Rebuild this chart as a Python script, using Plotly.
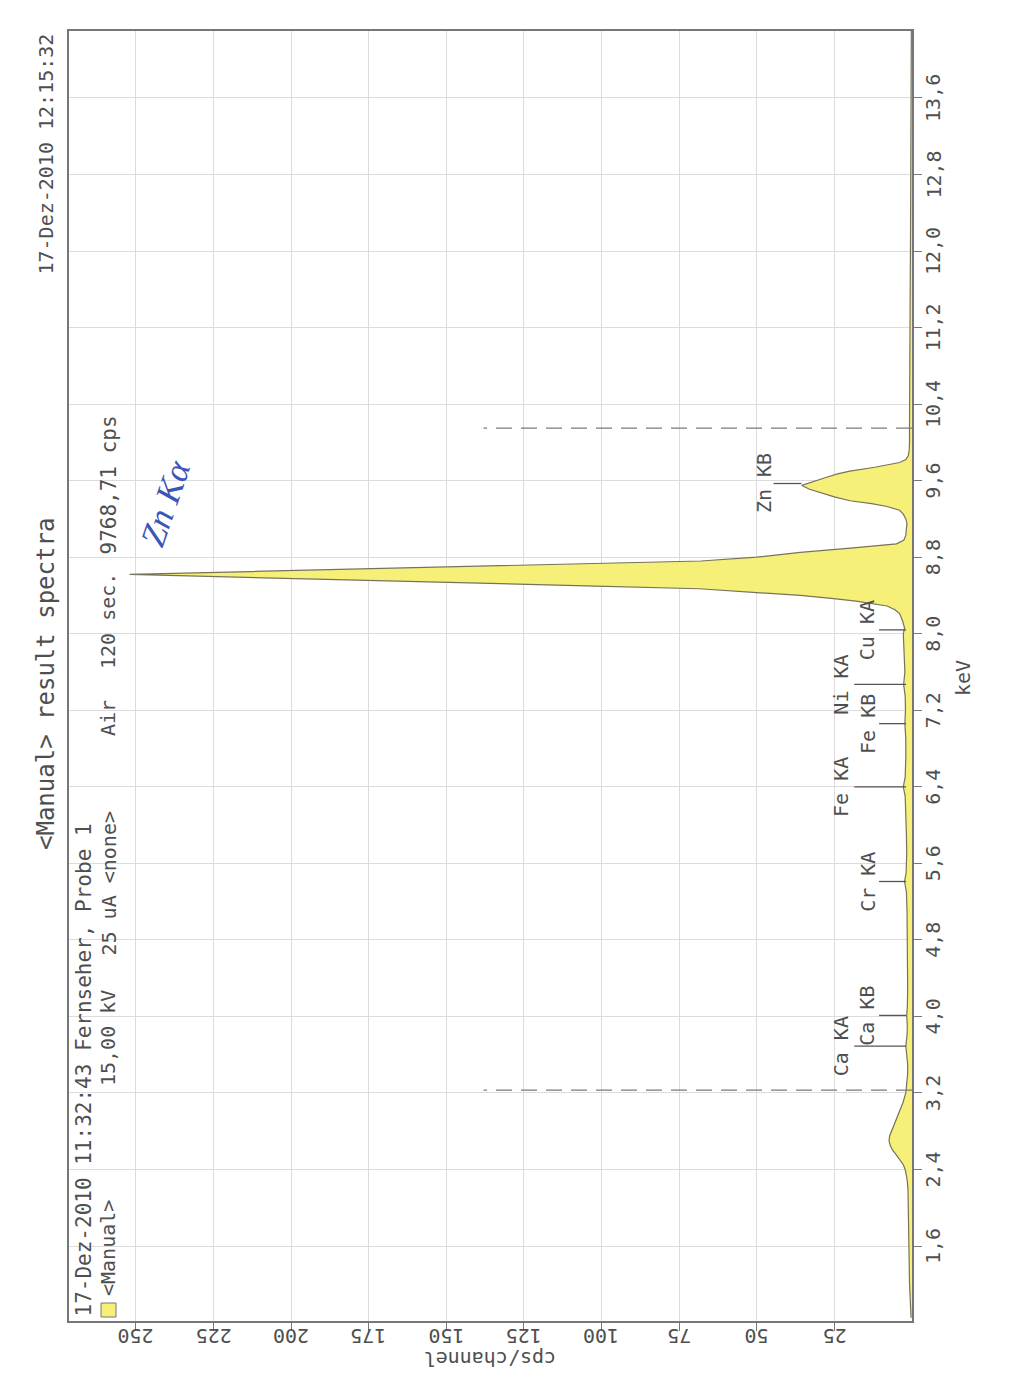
import plotly.graph_objects as go

# ---------------- data ----------------
keV = [0.85, 1.0, 1.2, 1.4, 1.6, 1.8, 2.0, 2.2, 2.3, 2.4, 2.45, 2.5, 2.55, 2.6, 2.65,
       2.7, 2.75, 2.8, 2.9, 3.0, 3.1, 3.2, 3.3, 3.4, 3.5, 3.6, 3.69, 3.8, 3.9, 4.01,
       4.1, 4.3, 4.5, 4.7, 4.9, 5.1, 5.3, 5.41, 5.5, 5.7, 5.9, 6.1, 6.3, 6.4, 6.5,
       6.7, 6.9, 7.06, 7.2, 7.35, 7.47, 7.6, 7.75, 7.9, 8.0, 8.06, 8.13, 8.21, 8.25,
       8.29, 8.34, 8.37, 8.40, 8.43, 8.47, 8.50, 8.53, 8.56, 8.59, 8.62, 8.65, 8.68,
       8.71, 8.74, 8.76, 8.80, 8.85, 8.90, 8.94, 8.98, 9.03, 9.1, 9.15, 9.2, 9.25,
       9.29, 9.33, 9.36, 9.39, 9.43, 9.47, 9.51, 9.55, 9.59, 9.63, 9.67, 9.70, 9.74,
       9.77, 9.79, 9.82, 9.86, 9.92, 10.0, 10.2, 10.5, 11.0, 11.5, 12.0, 12.5, 13.0,
       13.5, 14.0, 14.4]
cps = [0.3, 0.6, 0.8, 0.9, 1.0, 1.0, 1.1, 1.3, 1.6, 2.2, 2.8, 3.8, 5.0, 6.2, 7.0,
       7.4, 7.2, 6.6, 5.4, 4.2, 2.9, 2.0, 1.6, 1.4, 1.4, 1.6, 2.0, 1.6, 1.5, 1.7,
       1.5, 1.4, 1.4, 1.5, 1.5, 1.6, 1.8, 2.4, 1.9, 1.7, 1.8, 1.9, 2.2, 2.8, 2.2,
       2.0, 2.0, 2.3, 2.1, 2.2, 2.7, 2.3, 2.4, 2.6, 2.8, 2.4, 3.0, 4.0, 5.5,
       8.0, 18, 26, 36, 50, 68.5, 105, 142, 178, 215, 252, 213, 173,
       134, 95, 68, 50, 36, 18, 5, 2.6, 2.0, 1.8, 1.6, 2.0, 2.8,
       4.0, 8.0, 13, 20, 25, 29, 33, 35.5, 32, 28, 24, 20, 12,
       7, 4, 2, 1.2, 0.9, 0.8, 0.8, 0.7, 0.7, 0.6, 0.5, 0.4, 0.4,
       0.3, 0.3, 0.2]

cps_ticks = [25, 50, 75, 100, 125, 150, 175, 200, 225, 250]
cps_ticktext = ["25", "50", "75", "100", "125", "150", "175", "200", "225", "250"]
kev_ticks = [1.6, 2.4, 3.2, 4.0, 4.8, 5.6, 6.4, 7.2, 8.0, 8.8, 9.6, 10.4, 11.2, 12.0, 12.8, 13.6]
kev_ticktext = ["1,6", "2,4", "3,2", "4,0", "4,8", "5,6", "6,4", "7,2", "8,0", "8,8",
                "9,6", "10,4", "11,2", "12,0", "12,8", "13,6"]

peak_names = ["Ca KA", "Ca KB", "Cr KA", "Fe KA", "Fe KB", "Ni KA", "Cu KA", "Zn KB"]
peak_keV = [3.69, 4.01, 5.41, 6.40, 7.06, 7.47, 8.04, 9.57]
peak_height = [1.9, 1.9, 1.9, 1.9, 1.9, 1.9, 1.9, 35.6]

roi_keV = [3.23, 10.15]
roi_top_cps = 138

header_date = "17-Dez-2010 12:15:32"
title_text = "<Manual> result spectra"
info_line1 = "17-Dez-2010 11:32:43 Fernseher, Probe 1"
info_parts = ["<Manual>", "15,00 kV", "25 uA <none>", "Air", "120 sec.", "9768,71 cps"]

# ---------------- layout helpers ----------------
W, H = 1009, 1394
L, R, T, B = 61, 904, 23, 1313
def px(x):
    return (x - L) / (R - L)
def py(y):
    return (B - y) / (B - T)

FONT = "DejaVu Sans Mono"
TXT = "#4f4f4f"
FS = 20

# label column offsets (cps) for peak labels
label_text_cps = [22.8, 14.4, 14.4, 22.8, 14.4, 22.8, 14.4, 47.8]
label_line_from = [18.6, 10.6, 10.6, 18.6, 10.6, 18.6, 10.6, 44.6]

fig = go.Figure()
fig.add_trace(go.Scatter(
    x=cps, y=keV, mode="lines", fill="tozerox",
    fillcolor="#f6ef78", line=dict(color="#77735a", width=1.2),
    showlegend=False, hoverinfo="skip"))

shapes = []
annotations = []

# peak marker lines + labels
for name, e, h, tx, lf in zip(peak_names, peak_keV, peak_height, label_text_cps, label_line_from):
    shapes.append(dict(type="line", xref="x", yref="y", x0=lf, x1=h, y0=e, y1=e,
                       line=dict(color="#555555", width=1.3)))
    annotations.append(dict(x=tx, y=e, xref="x", yref="y", text=name, showarrow=False,
                            textangle=-90, xanchor="center", yanchor="middle",
                            font=dict(family=FONT, size=FS, color=TXT)))

# ROI dashed lines
for e in roi_keV:
    shapes.append(dict(type="line", xref="x", yref="y", x0=0, x1=roi_top_cps, y0=e, y1=e,
                       line=dict(color="#7a7a7a", width=1.3, dash="16px,9px")))

# legend square
shapes.append(dict(type="rect", xref="paper", yref="paper",
                   x0=px(93), x1=px(108), y0=py(1309), y1=py(1295),
                   fillcolor="#f6ef78", line=dict(color="#777777", width=1)))

def txt(text, x, y, yanchor="middle", angle=-90, size=FS, color=TXT, xanchor="center"):
    annotations.append(dict(x=px(x), y=py(y), xref="paper", yref="paper", text=text,
                            showarrow=False, textangle=angle, xanchor=xanchor, yanchor=yanchor,
                            font=dict(family=FONT, size=size, color=color)))

txt(header_date, 38, 24, yanchor="top")
txt(title_text, 38, 676, size=24)
txt(info_line1, 75, 1311, yanchor="bottom", size=21)
info_pos = [1290, 1080, 950, 730, 663, 549]
for t, p in zip(info_parts, info_pos):
    txt(t, 100, p, yanchor="bottom", size=21 if t == "9768,71 cps" else FS)

# cps tick labels (upside down) and keV tick labels
for v, t in zip(cps_ticks, cps_ticktext):
    annotations.append(dict(x=v, xref="x", y=py(B + 15), yref="paper", text=t,
                            showarrow=False, textangle=180, xanchor="center", yanchor="middle",
                            font=dict(family=FONT, size=FS, color=TXT)))
for v, t in zip(kev_ticks, kev_ticktext):
    annotations.append(dict(x=px(R + 21), xref="paper", y=v, yref="y", text=t,
                            showarrow=False, textangle=-90, xanchor="center", yanchor="middle",
                            font=dict(family=FONT, size=FS, color=TXT)))

txt("cps/channel", (L + R) / 2, B + 38, angle=180)
txt("keV", R + 51, 670)

# handwritten note
annotations.append(dict(x=px(122), y=py(495), xref="paper", yref="paper", text="Zn Kα",
                        showarrow=False, textangle=-71,
                        font=dict(family="Liberation Serif", size=35, color="#3b55b8", style="italic")))

fig.update_layout(
    width=W, height=H,
    margin=dict(l=L, r=W - R, t=T, b=H - B),
    paper_bgcolor="white", plot_bgcolor="white",
    shapes=shapes, annotations=annotations, showlegend=False,
    xaxis=dict(range=[271.5, 0], tickvals=cps_ticks, showticklabels=False,
               ticks="outside", ticklen=8, tickcolor="#777777",
               showgrid=True, gridcolor="#dcdcdc", gridwidth=1, zeroline=False,
               showline=True, mirror=True, linecolor="#777777", linewidth=1.6),
    yaxis=dict(range=[0.816, 14.30], tickvals=kev_ticks, showticklabels=False,
               side="right", ticks="outside", ticklen=8, tickcolor="#777777",
               showgrid=True, gridcolor="#dcdcdc", gridwidth=1, zeroline=False,
               showline=True, mirror=True, linecolor="#777777", linewidth=1.6),
)

fig.write_html("out.html")
